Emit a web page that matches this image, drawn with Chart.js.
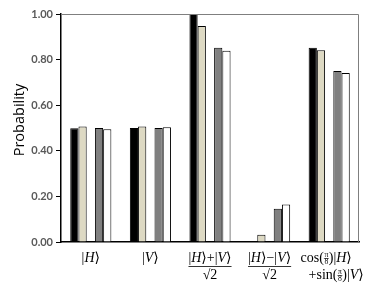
<!DOCTYPE html>
<html>
<head>
<meta charset="utf-8">
<script src="https://cdn.jsdelivr.net/npm/chart.js@4.4.1/dist/chart.umd.min.js"></script>
<style>
  html, body { margin: 0; padding: 0; background: #fff; }
  #wrap { width: 374px; height: 294px; position: relative; }
</style>
</head>
<body>
<div id="wrap"><canvas id="probChart"></canvas></div>
<script>
// 資料
const categories = ['|H⟩', '|V⟩', '(|H⟩+|V⟩)/√2', '(|H⟩−|V⟩)/√2', 'cos(π/8)|H⟩+sin(π/8)|V⟩'];
const seriesBlack = [0.499, 0.500, 1.000, 0.000, 0.852];
const seriesBeige = [0.507, 0.507, 0.947, 0.032, 0.841];
const seriesGray  = [0.500, 0.500, 0.852, 0.146, 0.750];
const seriesWhite = [0.494, 0.503, 0.839, 0.164, 0.741];
const spacer      = [null, null, null, null, null];
const yTicks = [0, 0.2, 0.4, 0.6, 0.8, 1.0];
const yTitle = 'Probability';

const SERIF = '"Liberation Serif", "DejaVu Serif", serif';

// rich text: parts = [{t, i}] or {frac:[num, den]}
function partWidth(ctx, p, size) {
    if (p.frac) {
        ctx.font = `${size * 0.55}px ${SERIF}`;
        return Math.max(ctx.measureText(p.frac[0]).width, ctx.measureText(p.frac[1]).width) + 1;
    }
    ctx.font = `${p.i ? 'italic ' : ''}${size}px ${SERIF}`;
    return ctx.measureText(p.t).width;
}

function drawRich(ctx, parts, cx, cy, size) {
    let total = 0;
    parts.forEach(p => total += partWidth(ctx, p, size));
    let x = cx - total / 2;
    ctx.textBaseline = 'middle';
    ctx.textAlign = 'left';
    parts.forEach(p => {
        const w = partWidth(ctx, p, size);
        if (p.frac) {
            ctx.font = `${size * 0.55}px ${SERIF}`;
            ctx.textAlign = 'center';
            ctx.fillText(p.frac[0], x + w / 2, cy - 3.5);
            ctx.fillText(p.frac[1], x + w / 2, cy + 3.5);
            ctx.beginPath();
            ctx.moveTo(x, cy + 0.5);
            ctx.lineTo(x + w, cy + 0.5);
            ctx.lineWidth = 0.6;
            ctx.stroke();
            ctx.textAlign = 'left';
        } else {
            ctx.font = `${p.i ? 'italic ' : ''}${size}px ${SERIF}`;
            ctx.fillText(p.t, x, cy);
        }
        x += w;
    });
    return total;
}

const ket = (s) => [{ t: '|' }, { t: s, i: true }, { t: '⟩' }];

const labelPlugin = {
    id: 'ketLabels',
    afterDraw(chart) {
        const ctx = chart.ctx;
        const xs = chart.scales.x;
        const base = chart.chartArea.bottom;
        const size = 14;
        ctx.save();
        ctx.fillStyle = '#000';
        ctx.strokeStyle = '#000';

        drawRich(ctx, ket('H'), xs.getPixelForValue(0), base + 16, size);
        drawRich(ctx, ket('V'), xs.getPixelForValue(1), base + 16, size);

        [['+', 2], ['−', 3]].forEach(([op, i]) => {
            const cx = xs.getPixelForValue(i);
            const parts = [...ket('H'), { t: op }, ...ket('V')];
            const w = drawRich(ctx, parts, cx, base + 16, size);
            ctx.beginPath();
            ctx.moveTo(cx - w / 2, base + 24.5);
            ctx.lineTo(cx + w / 2, base + 24.5);
            ctx.lineWidth = 0.8;
            ctx.stroke();
            drawRich(ctx, [{ t: '√2' }], cx, base + 33, size);
        });

        const c5 = xs.getPixelForValue(4);
        drawRich(ctx, [{ t: 'cos(' }, { frac: ['π', '8'] }, { t: ')' }, ...ket('H')], c5 - 3, base + 16, size);
        drawRich(ctx, [{ t: '+sin(' }, { frac: ['π', '8'] }, { t: ')' }, ...ket('V')], c5 + 7, base + 33, size);

        // y 軸標題
        ctx.save();
        ctx.translate(20, 120);
        ctx.rotate(-Math.PI / 2);
        ctx.font = '14.5px "Open Sans"';
        ctx.textAlign = 'center';
        ctx.textBaseline = 'middle';
        ctx.fillText(yTitle, 0, 0);
        ctx.restore();

        // 外框
        const a = chart.chartArea;
        ctx.strokeStyle = '#7f7f7f';
        ctx.lineWidth = 1;
        ctx.beginPath();
        ctx.moveTo(a.left, a.top + 0.5);
        ctx.lineTo(a.right - 0.5, a.top + 0.5);
        ctx.lineTo(a.right - 0.5, a.bottom);
        ctx.stroke();
        ctx.restore();
    }
};

function barSet(data, color) {
    return {
        data: data,
        backgroundColor: color,
        borderColor: '#000',
        borderWidth: 1,
        borderSkipped: 'bottom',
        categoryPercentage: 0.69,
        barPercentage: 1.0
    };
}

new Chart(document.getElementById('probChart'), {
    type: 'bar',
    data: {
        labels: categories,
        datasets: [
            barSet(seriesBlack, '#000000'),
            barSet(seriesBeige, '#ddd9c3'),
            barSet(spacer, 'rgba(0,0,0,0)'),
            barSet(seriesGray, '#808080'),
            barSet(seriesWhite, '#ffffff')
        ]
    },
    options: {
        responsive: true,
        maintainAspectRatio: false,
        animation: false,
        layout: { padding: { top: 14, right: 15, left: 0, bottom: 0 } },
        plugins: { legend: { display: false }, tooltip: { enabled: false } },
        scales: {
            x: {
                grid: { display: false },
                border: { color: '#000', width: 1.5 },
                ticks: { display: false },
                afterFit: s => { s.height = 52; }
            },
            y: {
                min: 0,
                max: 1,
                afterBuildTicks: s => { s.ticks = yTicks.map(v => ({ value: v })); },
                ticks: {
                    callback: v => v.toFixed(2),
                    color: '#595959',
                    font: { family: 'Lato', weight: 'bold', size: 11 },
                    padding: 3
                },
                grid: { drawOnChartArea: false, drawTicks: true, tickLength: 5, color: '#000' },
                border: { color: '#000', width: 1.5 },
                title: { display: false },
                afterFit: s => { s.width = 61; }
            }
        }
    },
    plugins: [labelPlugin]
});
</script>
</body>
</html>
